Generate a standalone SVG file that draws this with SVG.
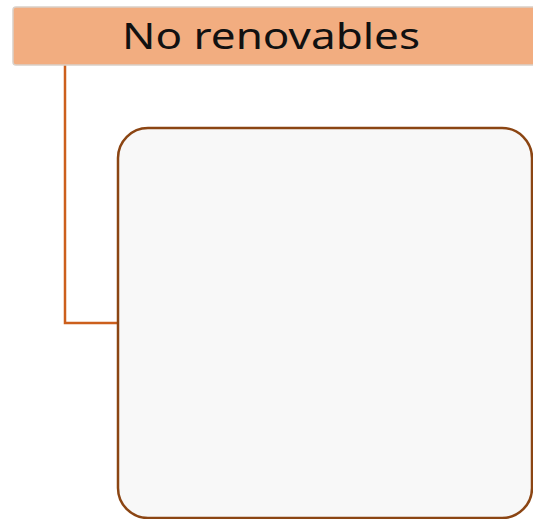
<svg xmlns="http://www.w3.org/2000/svg" width="533" height="519" viewBox="0 0 533 519">
<style>
.hdr{fill:#f2ad80;stroke:#d9d0c8;stroke-width:1.5}
.hdrtext{font-family:"Noto Sans","Liberation Sans",sans-serif;font-size:37px;fill:#111111}
.conn{fill:none;stroke:#cc5f1c;stroke-width:2.5}
.box{fill:#f8f8f8;stroke:#8b4513;stroke-width:2.5}
</style>
<g id="connectors">
<path class="conn" d="M65,65 V323 H118"/>
</g>
<g id="node-header">
<rect class="hdr" x="13" y="7" width="540" height="58" rx="3"/>
<text class="hdrtext" x="122" y="48.5" textLength="298" lengthAdjust="spacingAndGlyphs">No renovables</text>
</g>
<g id="node-box">
<rect class="box" x="118" y="128" width="414" height="390" rx="30"/>
</g>
</svg>
